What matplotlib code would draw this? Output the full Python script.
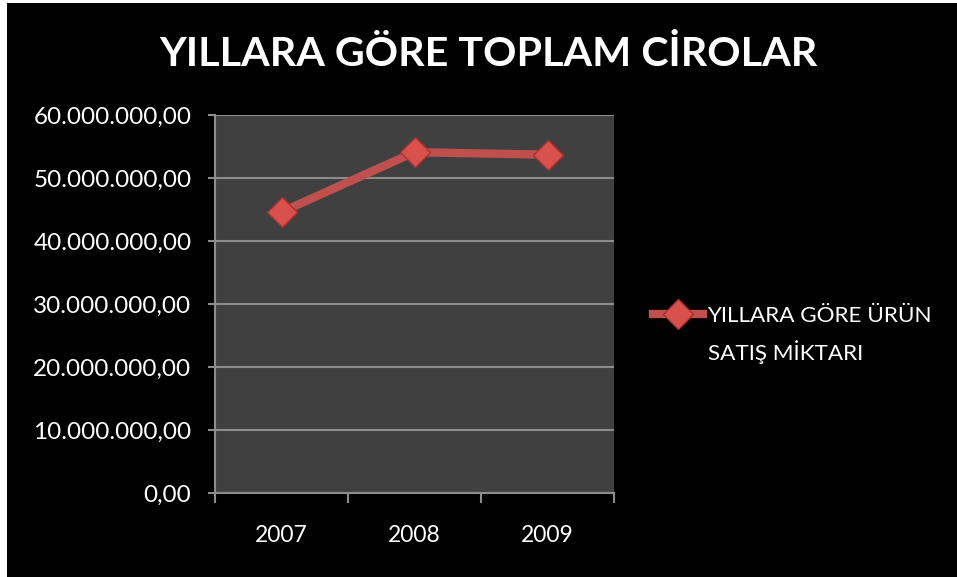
import matplotlib.pyplot as plt
from matplotlib.lines import Line2D
from matplotlib.patches import Rectangle
from matplotlib.ticker import FuncFormatter, FixedLocator

# Du lieu doc tu bieu do
years = ["2007", "2008", "2009"]
ciro = [44600000, 54100000, 53700000]
y_ticks = [0, 10000000, 20000000, 30000000, 40000000, 50000000, 60000000]

TITLE = "YILLARA GÖRE TOPLAM CİROLAR"
LEGEND_LINE1 = "YILLARA GÖRE ÜRÜN"
LEGEND_LINE2 = "SATIŞ MİKTARI"

RED = "#c0504d"
FONT = ["Lato", "DejaVu Sans"]


def tr_format(v, pos):
    s = f"{v:,.2f}"
    return s.replace(",", "X").replace(".", ",").replace("X", ".")


fig = plt.figure(figsize=(9.57, 5.77), dpi=100, facecolor="white")
plt.rcParams["font.family"] = FONT

# nen den (vien trang mong o tren va ben trai)
fig.add_artist(Rectangle((7 / 957, 0), 1 - 7 / 957, 1 - 3 / 577,
                         transform=fig.transFigure, facecolor="black",
                         edgecolor="none", zorder=0))

ax = fig.add_axes([215 / 957, 1 - 493 / 577, 399 / 957, 378 / 577])
ax.set_facecolor("#404040")

x = list(range(len(years)))
ax.plot(x, ciro, color=RED, lw=6, solid_capstyle="butt", zorder=3,
        marker="D", markersize=15, markerfacecolor="#d9504c",
        markeredgecolor="#a8322f", markeredgewidth=1)

ax.set_xlim(-0.5, len(years) - 0.5)
ax.set_ylim(0, 60000000)
ax.yaxis.set_major_locator(FixedLocator(y_ticks))
ax.yaxis.set_major_formatter(FuncFormatter(tr_format))
ax.set_xticks(x)
ax.set_xticklabels(years)
ax.set_xticks([-0.5, 0.5, 1.5, 2.5], minor=True)

ax.grid(axis="y", color="#8c8c8c", lw=1.5, zorder=1)
ax.set_axisbelow(True)
for s in ["top", "right"]:
    ax.spines[s].set_visible(False)
for s in ["left", "bottom"]:
    ax.spines[s].set_color("#8c8c8c")
    ax.spines[s].set_linewidth(1.5)

ax.tick_params(axis="y", colors="#8c8c8c", labelcolor="white", labelsize=17.5,
               length=5, width=1.5, pad=12)
ax.tick_params(axis="x", which="major", length=0, labelcolor="white",
               labelsize=16.5, pad=23)
ax.tick_params(axis="x", which="minor", colors="#8c8c8c", length=7, width=1.5)

fig.text(488 / 957, 1 - 55 / 577, TITLE, color="white", fontsize=29.7,
         fontweight="bold", ha="center", va="center")

# legend
handle = Line2D([], [], color=RED, lw=6, marker="D", markersize=15,
                markerfacecolor="#d9504c", markeredgecolor="#a8322f")
leg = fig.legend([handle], [LEGEND_LINE1], loc="center left",
                 bbox_to_anchor=(642 / 957, 1 - 316 / 577), frameon=False,
                 handlelength=2.2, handletextpad=0.2, borderpad=0,
                 fontsize=16.2, labelcolor="white")
fig.text(708 / 957, 1 - 352 / 577, LEGEND_LINE2, color="white",
         fontsize=16.2, ha="left", va="center")

fig.savefig("out.png", dpi=100, facecolor=fig.get_facecolor())
